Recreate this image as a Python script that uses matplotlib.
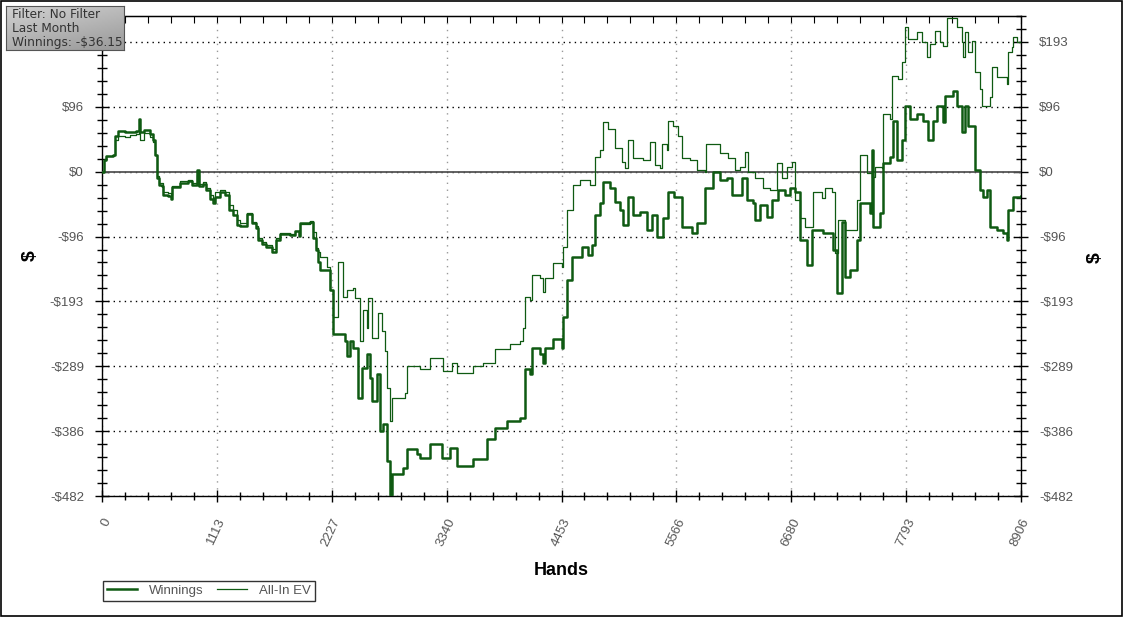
import matplotlib
matplotlib.use("Agg")
import matplotlib.pyplot as plt
import numpy as np
from matplotlib.patches import Rectangle
from matplotlib.ticker import MultipleLocator, FixedLocator

# 数据: 手数 / 美元
win_hands = [0, 19, 39, 107, 126, 155, 223, 271, 329, 359, 368, 407, 465, 494, 514, 533, 552, 581, 591,
             639, 669, 678, 756, 833, 872, 921, 940, 979, 1008, 1047, 1076, 1095, 1144, 1192, 1231, 1270,
             1308, 1337, 1405, 1454, 1492, 1512, 1551, 1589, 1647, 1686, 1725, 1822, 1870, 1909, 1919,
             2016, 2045, 2074, 2093, 2113, 2210, 2239, 2355, 2374, 2403, 2432, 2481, 2520, 2568, 2597,
             2617, 2665, 2694, 2723, 2762, 2791, 2810, 2917, 2956, 3053, 3082, 3179, 3295, 3372, 3440,
             3595, 3731, 3809, 3925, 4051, 4099, 4148, 4167, 4245, 4274, 4293, 4371, 4458, 4468, 4506,
             4555, 4652, 4710, 4749, 4778, 4826, 4855, 4923, 4971, 5020, 5049, 5097, 5146, 5214, 5282,
             5330, 5379, 5437, 5485, 5543, 5621, 5718, 5766, 5824, 5844, 5921, 5989, 6057, 6105, 6202,
             6251, 6309, 6328, 6377, 6445, 6493, 6551, 6619, 6667, 6716, 6764, 6832, 6881, 6987, 7084,
             7123, 7171, 7200, 7249, 7317, 7346, 7443, 7462, 7472, 7540, 7569, 7637, 7666, 7704, 7753,
             7782, 7830, 7898, 7956, 8005, 8053, 8092, 8150, 8170, 8247, 8286, 8334, 8363, 8392, 8431,
             8460, 8509, 8538, 8577, 8605, 8673, 8731, 8770, 8780, 8828, 8906]
win_usd = [0, 17.9, 23.9, 25.4, 52.3, 59.8, 58.3, 58.3, 59.8, 77.7, 58.3, 61.3, 55.3, 47.8, 25.4, -9.0,
           -19.4, -20.9, -34.4, -35.9, -40.4, -22.4, -16.4, -13.5, -19.4, 3.0, -20.9, -17.9, -26.9, -40.4,
           -46.3, -37.4, -29.9, -34.4, -56.8, -64.3, -79.2, -80.7, -62.8, -76.2, -83.7, -101.6, -107.6,
           -112.1, -119.6, -101.6, -92.7, -94.2, -88.2, -95.7, -76.2, -74.7, -98.6, -116.6, -134.5,
           -146.5, -176.4, -240.6, -251.1, -273.5, -251.1, -261.6, -336.3, -291.4, -270.5, -306.4,
           -340.8, -300.4, -385.7, -375.1, -430.4, -481.0, -449.9, -440.9, -412.5, -420.0, -425.9,
           -405.0, -425.9, -411.0, -437.9, -427.5, -397.6, -381.1, -370.6, -366.2, -292.9, -300.4,
           -261.6, -270.5, -284.0, -261.6, -248.1, -261.6, -216.7, -161.4, -127.0, -112.1, -124.1,
           -109.1, -64.3, -46.3, -14.9, -23.9, -44.8, -56.8, -79.2, -37.4, -64.3, -59.8, -86.7, -64.3,
           -97.1, -68.8, -29.9, -37.4, -82.2, -91.2, -76.2, -76.2, -23.9, 0, -12.0, -9.0, -34.4, -9.0,
           -41.8, -46.3, -71.7, -49.3, -67.3, -41.8, -26.9, -34.4, -23.9, -29.9, -101.6, -139.0, -86.7,
           -91.2, -116.6, -180.8, -74.7, -156.9, -146.5, -101.6, -46.3, -61.3, 32.9, -82.2, -61.3, 13.5,
           22.4, 74.7, 17.9, 47.8, 97.1, 77.7, 85.2, 74.7, 47.8, 74.7, 97.1, 73.2, 112.1, 119.6, 97.1,
           58.3, 97.1, 67.3, 67.3, 3.0, -26.9, -37.4, -26.9, -82.2, -86.7, -91.2, -101.6, -56.8, -37.4,
           -36.15]

ev_hands = [0, 19, 39, 107, 126, 155, 223, 271, 329, 359, 368, 407, 465, 494, 514, 533, 552, 581, 591,
            639, 669, 678, 756, 833, 872, 921, 940, 979, 1008, 1047, 1076, 1095, 1144, 1192, 1231, 1270,
            1308, 1337, 1405, 1454, 1492, 1512, 1551, 1589, 1647, 1686, 1725, 1822, 1870, 1909, 1919,
            2016, 2045, 2074, 2093, 2113, 2180, 2210, 2239, 2287, 2336, 2374, 2432, 2452, 2500, 2529,
            2568, 2578, 2617, 2675, 2713, 2743, 2762, 2791, 2810, 2936, 2956, 3082, 3179, 3305, 3392,
            3440, 3595, 3692, 3789, 3809, 3954, 4051, 4080, 4099, 4148, 4167, 4245, 4274, 4293, 4371,
            4458, 4468, 4506, 4565, 4632, 4729, 4778, 4826, 4855, 4904, 4971, 5039, 5068, 5097, 5146,
            5243, 5311, 5359, 5408, 5427, 5476, 5485, 5534, 5582, 5621, 5698, 5766, 5844, 5853, 5921,
            5989, 6066, 6134, 6183, 6231, 6260, 6328, 6406, 6474, 6541, 6590, 6638, 6687, 6716, 6764,
            6813, 6861, 6890, 6978, 7007, 7074, 7104, 7133, 7200, 7317, 7346, 7414, 7462, 7491, 7559,
            7569, 7637, 7656, 7714, 7753, 7782, 7811, 7898, 7947, 7995, 8024, 8072, 8121, 8150, 8189,
            8247, 8286, 8334, 8344, 8363, 8392, 8431, 8460, 8509, 8528, 8605, 8625, 8673, 8722, 8770,
            8780, 8819, 8828, 8867, 8906]
ev_usd = [0, 17.9, 23.9, 25.4, 47.8, 52.3, 50.8, 53.8, 55.3, 62.8, 47.8, 56.8, 50.8, 44.8, 25.4, -6.0,
          -16.4, -16.4, -29.9, -31.4, -34.4, -20.9, -13.5, -12.0, -16.4, -4.5, -17.9, -14.9, -23.9, -34.4,
          -40.4, -29.9, -26.9, -29.9, -49.3, -56.8, -71.7, -76.2, -61.3, -74.7, -80.7, -98.6, -104.6,
          -109.1, -115.1, -98.6, -91.2, -92.7, -88.2, -94.2, -77.7, -73.2, -89.7, -113.6, -119.6,
          -127.0, -142.0, -176.4, -216.7, -134.5, -186.8, -176.4, -173.4, -188.3, -251.1, -206.3,
          -231.7, -188.3, -246.6, -210.7, -236.1, -266.0, -321.3, -370.6, -336.3, -328.8, -288.5,
          -292.9, -276.5, -295.9, -284.0, -298.9, -288.5, -284.0, -284.0, -263.0, -255.6, -251.1,
          -231.7, -186.8, -191.3, -153.9, -158.4, -179.4, -158.4, -136.0, -142.0, -112.1, -56.8,
          -19.4, -12.0, -19.4, 22.4, 32.9, 73.2, 62.8, 35.9, 14.9, 6.0, 47.8, 20.9, 17.9, 44.8, 10.5,
          6.0, 40.4, 32.9, 74.7, 67.3, 52.3, 20.9, 17.9, 3.0, 0, 40.4, 40.4, 28.4, 20.9, 3.0, 7.5,
          29.9, 0, -9.0, -23.9, -26.9, 13.5, -9.0, 7.5, 14.9, -41.8, -68.8, -82.2, -82.2, -29.9,
          -38.9, -23.9, -29.9, -121.1, -71.7, -86.7, -41.8, 25.4, -1.5, -7.5, 7.5, 6.0, 85.2, 77.7,
          142.0, 137.5, 162.9, 215.2, 197.3, 207.7, 192.8, 170.4, 189.8, 209.2, 192.8, 186.8, 229.0,
          228.0, 215.2, 192.8, 170.4, 207.7, 177.9, 194.3, 148.0, 122.6, 97.1, 110.6, 155.4, 140.5,
          140.5, 130.0, 177.9, 185.3, 200.3, 192.8, 194.3]

x_ticks = [0, 1113, 2227, 3340, 4453, 5566, 6680, 7793, 8906]
y_labels = ["-$482", "-$386", "-$289", "-$193", "-$96", "$0", "$96", "$193"]
info_lines = ["Filter: No Filter", "Last Month", "Winnings: -$36.15"]

plt.rcParams["font.family"] = ["Liberation Sans", "DejaVu Sans"]

fig = plt.figure(figsize=(11.24, 6.17), dpi=100)
ax = fig.add_axes([102 / 1124, 1 - 496 / 617, 919 / 1124, 480 / 617])

green = "#0f5a12"
ax.plot(win_hands, win_usd, drawstyle="steps-post", color=green, lw=1.8, label="Winnings", zorder=4)
ax.plot(ev_hands, ev_usd, drawstyle="steps-post", color=green, lw=0.9, label="All-In EV", zorder=5)
ax.axhline(0, color="#555555", lw=1.3, zorder=3)

step_x = 8906 / 8
step_y = 482 / 5
ax.set_xlim(0, 8906)
ax.set_ylim(-482, 2.4 * step_y)

ax.xaxis.set_major_locator(FixedLocator([i * step_x for i in range(9)]))
ax.xaxis.set_minor_locator(MultipleLocator(step_x / 5))
ax.set_xticklabels([str(v) for v in x_ticks], rotation=65, ha="right", va="top",
                   rotation_mode="anchor", color="#555555", fontsize=9.5)
ax.yaxis.set_major_locator(FixedLocator([i * step_y for i in range(-5, 3)]))
ax.yaxis.set_minor_locator(MultipleLocator(step_y / 5))
ax.set_yticklabels(y_labels, color="#555555", fontsize=9.5)

ax.tick_params(axis="y", which="both", left=True, right=True, labelleft=True, labelright=True,
               direction="inout", color="black")
ax.tick_params(axis="y", which="major", length=10, width=1, pad=8)
ax.tick_params(axis="y", which="minor", length=7, width=1)
ax.tick_params(axis="x", which="both", bottom=True, top=False, direction="inout", color="black")
ax.tick_params(axis="x", which="major", length=9, width=1, pad=10)
ax.tick_params(axis="x", which="minor", length=6, width=1)
# 顶部只画向内的小刻度
top = ax.secondary_xaxis("top")
top.xaxis.set_major_locator(MultipleLocator(step_x / 5))
top.tick_params(direction="in", length=5, color="black", labeltop=False)
top.spines["top"].set_color("black")

ax.grid(axis="x", which="major", color="#999999", linestyle=(0, (1, 4)), lw=1)
ax.grid(axis="y", which="major", color="black", linestyle=(0, (1, 3)), lw=1)

for s in ax.spines.values():
    s.set_color("black")
    s.set_linewidth(1)

ax.set_xlabel("Hands", fontsize=13, fontweight="bold", labelpad=10)
ax.set_ylabel("$", fontsize=14, fontweight="bold", labelpad=8)
fig.text(1095 / 1124, 1 - 258 / 617, "$", fontsize=14, fontweight="bold", rotation=90,
         ha="center", va="center")

# 图例
leg = fig.legend(loc="lower left", bbox_to_anchor=(103 / 1124, 1 - 601 / 617), ncol=2,
                 fontsize=9.5, frameon=True, fancybox=False, handlelength=2.3,
                 borderpad=0.3, borderaxespad=0, columnspacing=1.0, handletextpad=0.9)
leg.get_frame().set_edgecolor("black")
leg.get_frame().set_linewidth(1)
for t in leg.get_texts():
    t.set_color("#555555")

# 左上角信息框
ibox = fig.add_axes([6 / 1124, 1 - 50 / 617, 118 / 1124, 44 / 617], zorder=10)
gx, gy = np.meshgrid(np.linspace(0, 1, 60), np.linspace(0, 1, 30))
shade = 0.82 - 0.08 * gx - 0.14 * gy
rgb = np.dstack([shade, shade, shade])
ibox.imshow(rgb, aspect="auto", extent=[0, 1, 0, 1], origin="upper")
ibox.set_xticks([])
ibox.set_yticks([])
for s in ibox.spines.values():
    s.set_color("#555555")
for i, t in enumerate(info_lines):
    ibox.text(0.05, 0.80 - i * 0.31, t, fontsize=8.7, color="#333333", family="DejaVu Sans",
              va="center", transform=ibox.transAxes)

fig.patches.append(Rectangle((0.001, 0.002), 0.997, 0.996, transform=fig.transFigure,
                             fill=False, edgecolor="black", lw=1.2))

fig.savefig("out.png", dpi=100)
